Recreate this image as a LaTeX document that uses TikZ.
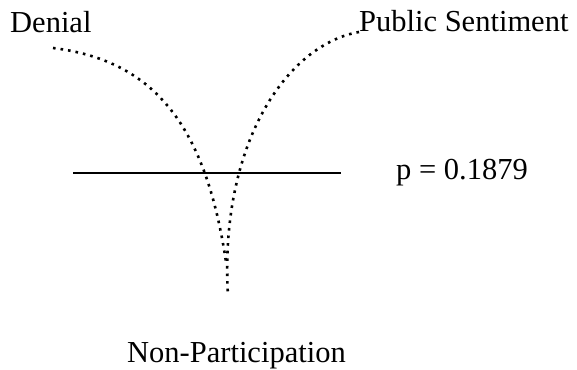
\documentclass[tikz,border=0pt]{standalone}
\usepackage{fontspec}
\setmainfont{Liberation Serif}
\usetikzlibrary{positioning}

\begin{document}
\begin{tikzpicture}[
  x=1pt, y=-1pt,
  lbl/.style={inner sep=0pt, anchor=base west, font=\fontsize{30.5}{36}\selectfont},
  dotcurve/.style={line width=2.6pt, dash pattern=on 2.6pt off 5pt},
  bar/.style={line width=1.3pt},
  ]
  \useasboundingbox (0,0) rectangle (577,369);
  \node[lbl] (denial) at (10,33) {Denial};
  \node[lbl] (pub) at (359,32) {Public Sentiment};
  \node[lbl] (nonp) at (127,362) {Non-Participation};
  \coordinate (lstart) at (73,173);
  \coordinate (lend) at (341,173);
  \node[lbl] (pval) at (396,179) {p = 0.1879};
  \coordinate (dstart) at (53,48);
  \coordinate (merge) at (226,262);
  \coordinate (bottom) at (228,296);

  \draw[bar] (lstart) -- (lend);
  \draw[dotcurve] (dstart) .. controls (150,60) and (205,120) .. (merge);
  \draw[dotcurve] (pub.base west) .. controls (286,45) and (219,145) .. (bottom);
\end{tikzpicture}
\end{document}
